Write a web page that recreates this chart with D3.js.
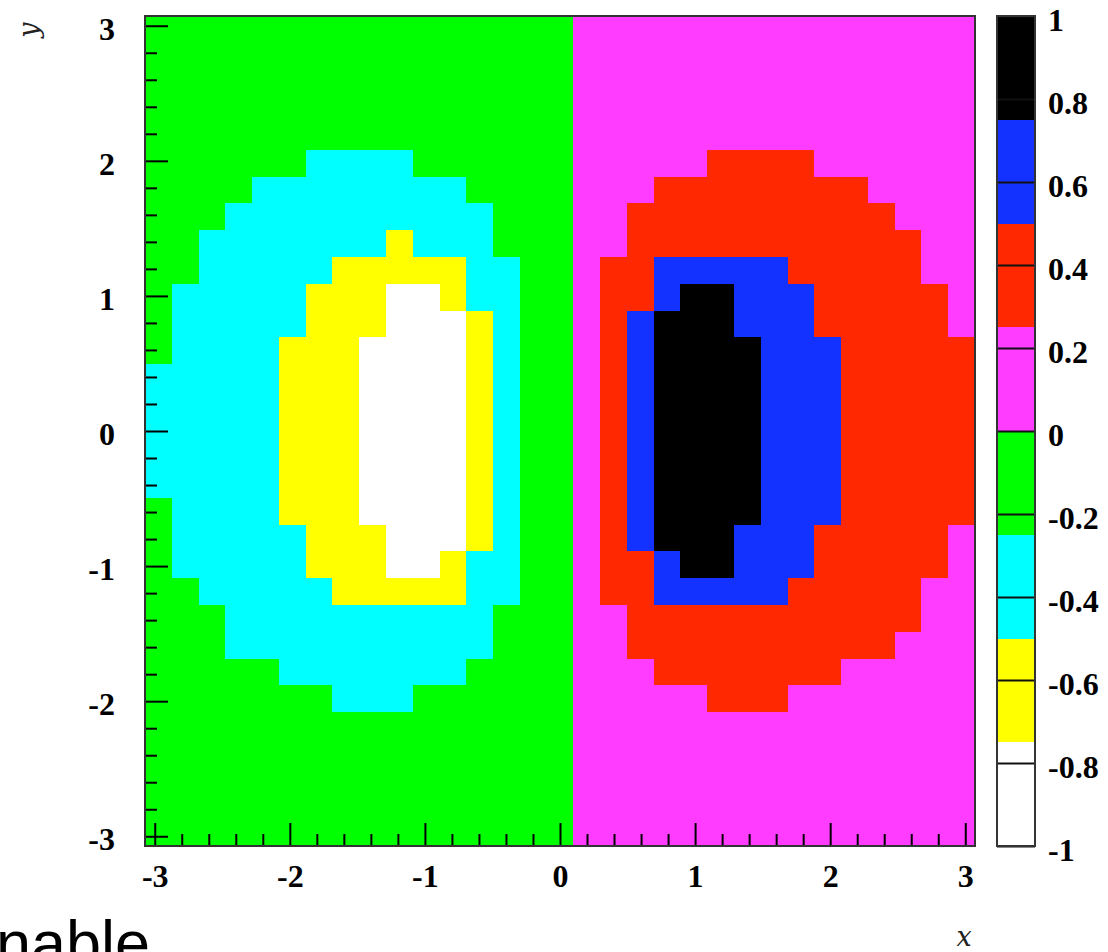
<!DOCTYPE html>
<html>
<head>
<meta charset="utf-8">
<script src="https://cdn.jsdelivr.net/npm/d3@7"></script>
<style>
  html, body { margin: 0; padding: 0; background: #ffffff; }
  svg { display: block; }
  .num { font-family: "Liberation Serif", "Times New Roman", serif; font-weight: bold; font-size: 32px; fill: #000; }
  .title { font-family: "DejaVu Serif", serif; font-style: italic; font-size: 27px; fill: #222; }
  .caption { font-family: "Liberation Sans", Arial, sans-serif; font-size: 63px; fill: #000; }
</style>
</head>
<body>
<svg id="chart" width="1108" height="952"></svg>
<script>
// Axis ranges of the histogram frame
const xRange = [-3.072, 3.072];
const yRange = [-3.072, 3.072];

// Contour levels of the colour palette and the colour of each band
const zLevels = [-1, -0.75, -0.5, -0.25, 0, 0.25, 0.5, 0.75, 1];
const zColors = ["#ffffff", "#ffff00", "#00ffff", "#00ff00", "#ff3cff", "#ff2800", "#1432ff", "#000000"];
// One letter per band, lowest band first
const bandCodes = "WYCGMRBK";

// 31 x 31 bins, top row first, left column first; each letter is the band of the bin content
const cellRows = [
  "GGGGGGGGGGGGGGGGMMMMMMMMMMMMMMM",
  "GGGGGGGGGGGGGGGGMMMMMMMMMMMMMMM",
  "GGGGGGGGGGGGGGGGMMMMMMMMMMMMMMM",
  "GGGGGGGGGGGGGGGGMMMMMMMMMMMMMMM",
  "GGGGGGGGGGGGGGGGMMMMMMMMMMMMMMM",
  "GGGGGGCCCCGGGGGGMMMMMRRRRMMMMMM",
  "GGGGCCCCCCCCGGGGMMMRRRRRRRRMMMM",
  "GGGCCCCCCCCCCGGGMMRRRRRRRRRRMMM",
  "GGCCCCCCCYCCCGGGMMRRRRRRRRRRRMM",
  "GGCCCCCYYYYYCCGGMRRBBBBBRRRRRMM",
  "GCCCCCYYYWWYCCGGMRRBKKBBBRRRRRM",
  "GCCCCCYYYWWWYCGGMRBKKKBBBRRRRRM",
  "GCCCCYYYWWWWYCGGMRBKKKKBBBRRRRR",
  "CCCCCYYYWWWWYCGGMRBKKKKBBBRRRRR",
  "CCCCCYYYWWWWYCGGMRBKKKKBBBRRRRR",
  "CCCCCYYYWWWWYCGGMRBKKKKBBBRRRRR",
  "CCCCCYYYWWWWYCGGMRBKKKKBBBRRRRR",
  "CCCCCYYYWWWWYCGGMRBKKKKBBBRRRRR",
  "GCCCCYYYWWWWYCGGMRBKKKKBBBRRRRR",
  "GCCCCCYYYWWWYCGGMRBKKKBBBRRRRRM",
  "GCCCCCYYYWWYCCGGMRRBKKBBBRRRRRM",
  "GGCCCCCYYYYYCCGGMRRBBBBBRRRRRMM",
  "GGGCCCCCCCCCCGGGMMRRRRRRRRRRRMM",
  "GGGCCCCCCCCCCGGGMMRRRRRRRRRRMMM",
  "GGGGGCCCCCCCGGGGMMMRRRRRRRMMMMM",
  "GGGGGGGCCCGGGGGGMMMMMRRRMMMMMMM",
  "GGGGGGGGGGGGGGGGMMMMMMMMMMMMMMM",
  "GGGGGGGGGGGGGGGGMMMMMMMMMMMMMMM",
  "GGGGGGGGGGGGGGGGMMMMMMMMMMMMMMM",
  "GGGGGGGGGGGGGGGGMMMMMMMMMMMMMMM",
  "GGGGGGGGGGGGGGGGMMMMMMMMMMMMMMM"
];

// Axis ticks
const majorTicks = [-3, -2, -1, 0, 1, 2, 3];
const minorTicks = [-2.8, -2.6, -2.4, -2.2, -1.8, -1.6, -1.4, -1.2, -0.8, -0.6, -0.4, -0.2,
                    0.2, 0.4, 0.6, 0.8, 1.2, 1.4, 1.6, 1.8, 2.2, 2.4, 2.6, 2.8];
const zTicks = [-1, -0.8, -0.6, -0.4, -0.2, 0, 0.2, 0.4, 0.6, 0.8, 1];
const zTickLabels = ["-1", "-0.8", "-0.6", "-0.4", "-0.2", "0", "0.2", "0.4", "0.6", "0.8", "1"];

// ---- layout ----
const plot = { left: 145, right: 975, top: 16, bottom: 846 };
const bar = { left: 997, right: 1035 };

const svg = d3.select("#chart");
svg.append("rect").attr("width", 1108).attr("height", 952).attr("fill", "#ffffff");

const xScale = d3.scaleLinear().domain(xRange).range([plot.left, plot.right]);
const yScale = d3.scaleLinear().domain(yRange).range([plot.bottom, plot.top]);
const colBand = d3.scaleBand().domain(d3.range(cellRows[0].length)).range([plot.left, plot.right]);
const rowBand = d3.scaleBand().domain(d3.range(cellRows.length)).range([plot.top, plot.bottom]);
const zColor = d3.scaleThreshold().domain(zLevels.slice(1, -1)).range(zColors);
const zScale = d3.scaleLinear().domain([-1, 1]).range([plot.bottom, plot.top]);

// bin contents: the midpoint of the band each letter names
const cells = [];
cellRows.forEach((row, r) => {
  row.split("").forEach((code, c) => {
    const k = bandCodes.indexOf(code);
    cells.push({ row: r, col: c, z: (zLevels[k] + zLevels[k + 1]) / 2 });
  });
});

// ---- colour map ----
svg.append("g")
  .attr("shape-rendering", "crispEdges")
  .selectAll("rect")
  .data(cells)
  .join("rect")
  .attr("x", d => colBand(d.col))
  .attr("y", d => rowBand(d.row))
  .attr("width", colBand.bandwidth() + 0.6)
  .attr("height", rowBand.bandwidth() + 0.6)
  .attr("fill", d => zColor(d.z));

// ---- axes ----
const fmt = d => String(d);

const yMajor = svg.append("g")
  .attr("transform", `translate(${plot.left},0)`)
  .call(d3.axisLeft(yScale).tickValues(majorTicks).tickSizeInner(-23).tickSizeOuter(0)
    .tickPadding(30).tickFormat(fmt));
const yMinor = svg.append("g")
  .attr("transform", `translate(${plot.left},0)`)
  .call(d3.axisLeft(yScale).tickValues(minorTicks).tickSizeInner(-12).tickSizeOuter(0)
    .tickFormat(""));
const xMajor = svg.append("g")
  .attr("transform", `translate(0,${plot.bottom})`)
  .call(d3.axisBottom(xScale).tickValues(majorTicks).tickSizeInner(-23).tickSizeOuter(0)
    .tickPadding(19).tickFormat(fmt));
const xMinor = svg.append("g")
  .attr("transform", `translate(0,${plot.bottom})`)
  .call(d3.axisBottom(xScale).tickValues(minorTicks).tickSizeInner(-12).tickSizeOuter(0)
    .tickFormat(""));

[yMajor, yMinor, xMajor, xMinor].forEach(g => {
  g.select(".domain").remove();
  g.selectAll(".tick line").attr("stroke", "#000").attr("stroke-width", 2);
  g.selectAll("text").attr("class", "num").attr("font-size", null).attr("font-family", null);
});
yMajor.selectAll("text").attr("dy", "0.42em");
xMajor.selectAll("text").attr("dy", "0.68em");

// frame
svg.append("rect")
  .attr("x", plot.left).attr("y", plot.top)
  .attr("width", plot.right - plot.left).attr("height", plot.bottom - plot.top)
  .attr("fill", "none").attr("stroke", "#333").attr("stroke-width", 2);

// ---- palette ----
const bands = zColors.map((c, i) => ({ lo: zLevels[i], hi: zLevels[i + 1] }));
svg.append("g")
  .attr("shape-rendering", "crispEdges")
  .selectAll("rect")
  .data(bands)
  .join("rect")
  .attr("x", bar.left)
  .attr("y", d => zScale(d.hi))
  .attr("width", bar.right - bar.left)
  .attr("height", d => zScale(d.lo) - zScale(d.hi))
  .attr("fill", d => zColor((d.lo + d.hi) / 2));

const zAxis = svg.append("g")
  .attr("transform", `translate(${bar.right},0)`)
  .call(d3.axisRight(zScale).tickValues(zTicks).tickSizeInner(-(bar.right - bar.left)).tickSizeOuter(0)
    .tickPadding(13).tickFormat((d, i) => zTickLabels[i]));
zAxis.select(".domain").remove();
zAxis.selectAll(".tick line").attr("stroke", "#111").attr("stroke-width", 2);
zAxis.selectAll("text").attr("class", "num").attr("font-size", null).attr("font-family", null)
  .attr("dy", "0.45em");

svg.append("rect")
  .attr("x", bar.left).attr("y", plot.top)
  .attr("width", bar.right - bar.left).attr("height", plot.bottom - plot.top)
  .attr("fill", "none").attr("stroke", "#333").attr("stroke-width", 2);

// ---- axis titles ----
svg.append("text").attr("class", "title")
  .attr("transform", "translate(38,30) rotate(-90)")
  .attr("text-anchor", "middle")
  .text("y");
svg.append("text").attr("class", "title")
  .attr("x", 964).attr("y", 946)
  .attr("text-anchor", "middle")
  .text("x");

// caption text running below the figure
svg.append("text").attr("class", "caption")
  .attr("x", -4).attr("y", 965)
  .text("nable");
</script>
</body>
</html>
